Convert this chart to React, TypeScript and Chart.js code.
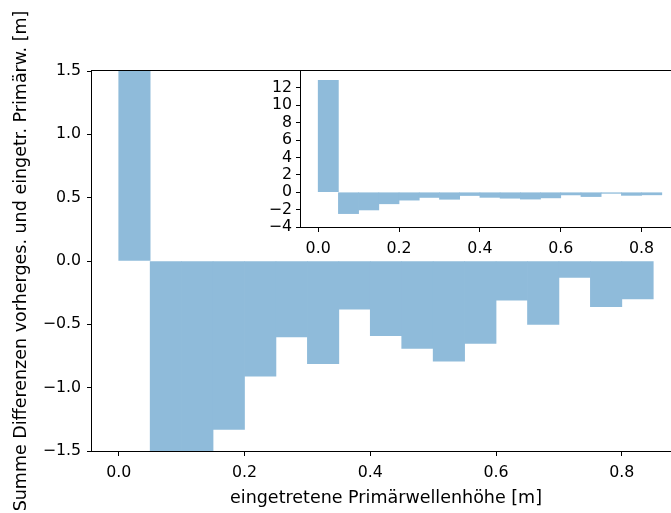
import React, { useEffect, useRef } from 'react';
import { Chart, registerables } from 'chart.js';

Chart.register(...registerables);

// ---- data ----
const binStarts = [0.0, 0.05, 0.1, 0.15, 0.2, 0.25, 0.3, 0.35, 0.4, 0.45, 0.5, 0.55, 0.6, 0.65, 0.7, 0.75, 0.8];
const binWidth = 0.05;
const sumDiffs = [12.88, -2.46, -2.04, -1.33, -0.91, -0.6, -0.81, -0.38, -0.59, -0.69, -0.79, -0.65, -0.31, -0.5, -0.13, -0.36, -0.3];

const mainXTicks = [0, 0.2, 0.4, 0.6, 0.8];
const mainYTicks = [-1.5, -1.0, -0.5, 0, 0.5, 1.0, 1.5];
const insetXTicks = [0, 0.2, 0.4, 0.6, 0.8];
const insetYTicks = [-4, -2, 0, 2, 4, 6, 8, 10, 12];

const xLabel = 'eingetretene Primärwellenhöhe [m]';
const yLabel = 'Summe Differenzen vorherges. und eingetr. Primärw. [m]';

const FONT = 'DejaVu Sans';
const BAR_COLOR = 'rgb(143,187,218)';
const TICK_SIZE = 15.8;
const LABEL_SIZE = 17.5;

const minus = (s: string) => s.replace('-', '\u2212');
const fmt1 = (v: number) => minus(Number(v).toFixed(1));
const fmt0 = (v: number) => minus(String(Math.round(Number(v))));

const framePlugin = {
  id: 'frame',
  beforeDraw(chart: any, _args: any, opts: any) {
    if (opts && opts.fill) {
      const { left, top, right, bottom } = chart.chartArea;
      const ctx = chart.ctx;
      ctx.save();
      ctx.fillStyle = '#ffffff';
      ctx.fillRect(left - 1, top - 1, right - left + 2, bottom - top + 2);
      ctx.restore();
    }
  },
  afterDraw(chart: any) {
    const { left, top, right, bottom } = chart.chartArea;
    const ctx = chart.ctx;
    ctx.save();
    ctx.strokeStyle = '#000000';
    ctx.lineWidth = 1;
    const l = Math.round(left) - 0.5;
    const t = Math.round(top) - 0.5;
    const r = Math.round(right) + 0.5;
    const b = Math.round(bottom) + 0.5;
    ctx.strokeRect(l, t, r - l, b - t);
    ctx.restore();
  },
};

function gridOpts() {
  return {
    display: true,
    drawOnChartArea: false,
    drawTicks: true,
    tickLength: 5,
    color: '#000000',
    lineWidth: 1,
    offset: false,
  };
}

export default function App() {
  const mainRef = useRef<HTMLCanvasElement>(null);
  const insetRef = useRef<HTMLCanvasElement>(null);

  useEffect(() => {
    const bars = binStarts.map((s, i) => ({ x: s + binWidth / 2, y: sumDiffs[i] }));

    const dataset = () => ({
      data: bars,
      backgroundColor: BAR_COLOR,
      borderWidth: 0,
      barPercentage: 1,
      categoryPercentage: 1,
    });

    const main = new Chart(mainRef.current as HTMLCanvasElement, {
      type: 'bar',
      data: { datasets: [dataset() as any] },
      plugins: [framePlugin as any],
      options: {
        animation: false,
        responsive: false,
        devicePixelRatio: 1,
        events: [],
        layout: { padding: { left: 0, top: 71, right: 20, bottom: 0 } },
        plugins: { legend: { display: false }, tooltip: { enabled: false }, frame: { fill: false } } as any,
        scales: {
          x: {
            type: 'linear',
            min: -0.0425,
            max: 0.8925,
            offset: false,
            afterBuildTicks: (s: any) => { s.ticks = mainXTicks.map((v) => ({ value: v })); },
            afterFit: (s: any) => { s.height = 62; },
            ticks: { autoSkip: false, maxRotation: 0, color: '#000', padding: 7, font: { family: FONT, size: TICK_SIZE }, callback: (v: any) => fmt1(v) },
            grid: gridOpts() as any,
            border: { display: false },
            title: { display: true, text: xLabel, color: '#000', font: { family: FONT, size: LABEL_SIZE }, padding: { top: 0, bottom: 4 } },
          },
          y: {
            type: 'linear',
            min: -1.5,
            max: 1.5,
            afterBuildTicks: (s: any) => { s.ticks = mainYTicks.map((v) => ({ value: v })); },
            afterFit: (s: any) => { s.width = 92; },
            ticks: { autoSkip: false, color: '#000', padding: 6, font: { family: FONT, size: TICK_SIZE }, callback: (v: any) => fmt1(v) },
            grid: gridOpts() as any,
            border: { display: false },
            title: { display: true, text: yLabel, color: '#000', font: { family: FONT, size: LABEL_SIZE }, padding: { top: 11, bottom: 0 } },
          },
        },
      } as any,
    });

    const inset = new Chart(insetRef.current as HTMLCanvasElement, {
      type: 'bar',
      data: { datasets: [dataset() as any] },
      plugins: [framePlugin as any],
      options: {
        animation: false,
        responsive: false,
        devicePixelRatio: 1,
        events: [],
        layout: { padding: { left: 0, top: 16, right: 21, bottom: 0 } },
        plugins: { legend: { display: false }, tooltip: { enabled: false }, frame: { fill: true } } as any,
        scales: {
          x: {
            type: 'linear',
            min: -0.0425,
            max: 0.8925,
            offset: false,
            afterBuildTicks: (s: any) => { s.ticks = insetXTicks.map((v) => ({ value: v })); },
            afterFit: (s: any) => { s.height = 43; },
            ticks: { autoSkip: false, maxRotation: 0, color: '#000', padding: 7, font: { family: FONT, size: TICK_SIZE }, callback: (v: any) => fmt1(v) },
            grid: gridOpts() as any,
            border: { display: false },
          },
          y: {
            type: 'linear',
            min: -4,
            max: 13.95,
            afterBuildTicks: (s: any) => { s.ticks = insetYTicks.map((v) => ({ value: v })); },
            afterFit: (s: any) => { s.width = 61; },
            ticks: { autoSkip: false, color: '#000', padding: 4, font: { family: FONT, size: TICK_SIZE }, callback: (v: any) => fmt0(v) },
            grid: gridOpts() as any,
            border: { display: false },
          },
        },
      } as any,
    });

    return () => {
      main.destroy();
      inset.destroy();
    };
  }, []);

  return (
    <div style={{ position: 'fixed', left: 0, top: 0, width: 671, height: 513, overflow: 'hidden', background: '#ffffff' }}>
      <canvas ref={mainRef} width={700} height={513} style={{ position: 'absolute', left: 0, top: 0, width: 700, height: 513 }} />
      <canvas ref={insetRef} width={460} height={215} style={{ position: 'absolute', left: 240, top: 55, width: 460, height: 215 }} />
    </div>
  );
}
